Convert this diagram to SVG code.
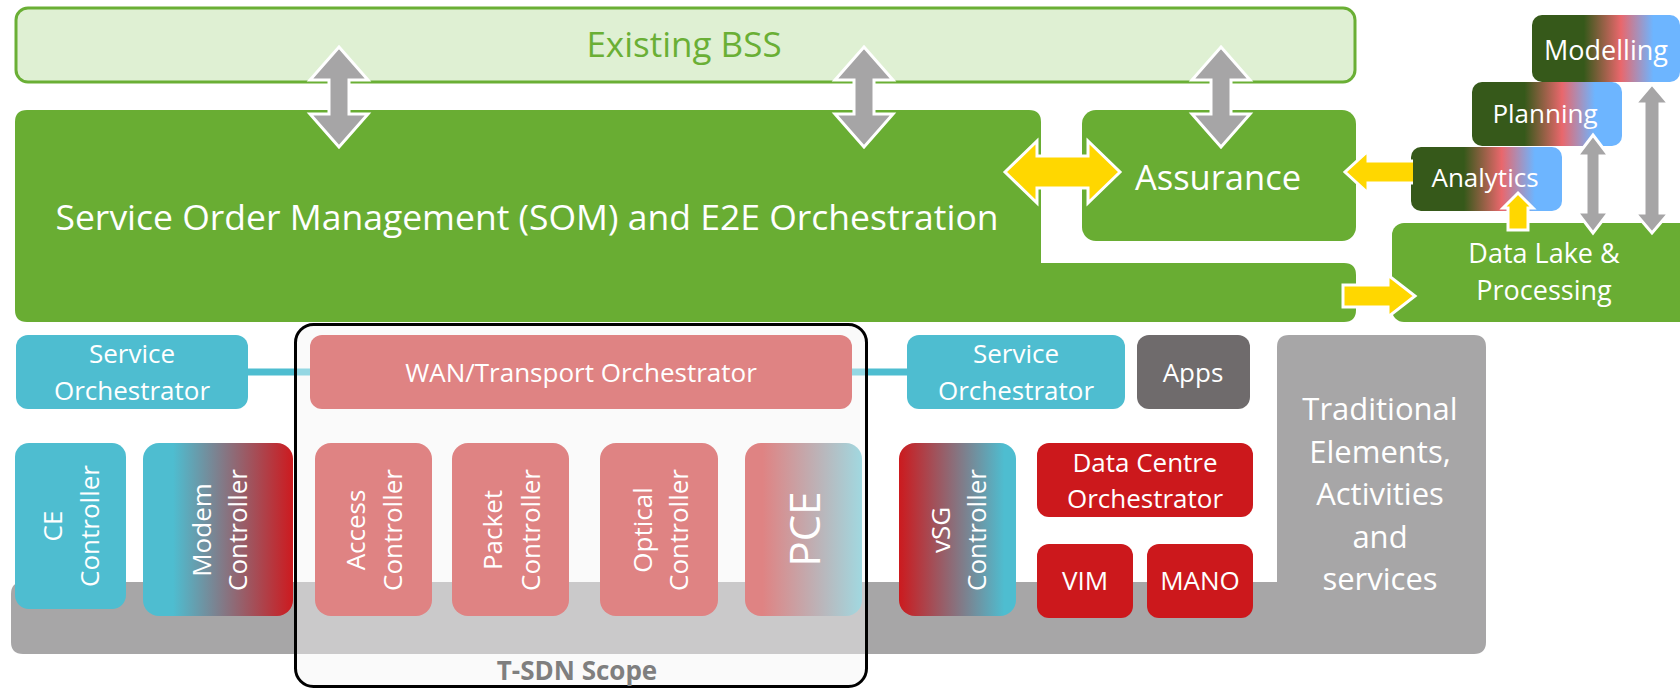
<svg xmlns="http://www.w3.org/2000/svg" width="1680" height="695" viewBox="0 0 1680 695">
<defs>
<linearGradient id="gAn" x1="0" y1="0" x2="1" y2="0">
<stop offset="0" stop-color="#36591A"/><stop offset="0.35" stop-color="#36591A"/><stop offset="0.6" stop-color="#E9676C"/><stop offset="0.82" stop-color="#6DB5FF"/><stop offset="1" stop-color="#6DB5FF"/>
</linearGradient>
<linearGradient id="gModem" x1="0" y1="0" x2="1" y2="0">
<stop offset="0" stop-color="#4EBDD0"/><stop offset="0.2" stop-color="#4EBDD0"/><stop offset="1" stop-color="#CD1A1F"/>
</linearGradient>
<linearGradient id="gVsg" x1="0" y1="0" x2="1" y2="0">
<stop offset="0" stop-color="#CC1A1E"/><stop offset="0.9" stop-color="#4EBDD0"/><stop offset="1" stop-color="#4EBDD0"/>
</linearGradient>
<linearGradient id="gPce" x1="0" y1="0" x2="1" y2="0">
<stop offset="0" stop-color="#DF8383"/><stop offset="0.15" stop-color="#DF8383"/><stop offset="1" stop-color="#A1D8E0"/>
</linearGradient>
<style>
text{font-family:"Open Sans","Liberation Sans",sans-serif;fill:#fff;text-anchor:middle}
.green{fill:#69AD33}
.teal{fill:#4EBDD0}
.pink{fill:#DF8383}
.red{fill:#CC181C}
.gray{fill:#A7A6A7}
.ga{fill:#A6A5A6;stroke:#fff;stroke-width:3}
.ya{fill:#FFD700;stroke:#fff;stroke-width:3}
.yf{fill:#FFD700}
.wo{fill:none;stroke:#fff;stroke-width:3}
.t26{font-size:26px}
.t27{font-size:27px}
</style>
</defs>
<rect width="1680" height="695" fill="#fff"/>

<g id="bss">
<rect x="16" y="8" width="1339" height="74" rx="12" fill="#DFF0D3" stroke="#6AAF35" stroke-width="3"/>
<text x="684" y="57" style="font-size:35px;fill:#6AAF35">Existing BSS</text>
</g>

<g id="som">
<path class="green" d="M15,122 Q15,110 27,110 H1029 Q1041,110 1041,122 V263 H1344 Q1356,263 1356,275 V310 Q1356,322 1344,322 H27 Q15,322 15,310 Z"/>
<text x="527" y="230" style="font-size:35.5px">Service Order Management (SOM) and E2E Orchestration</text>
</g>

<g id="assurance">
<rect class="green" x="1082" y="110" width="274" height="131" rx="14"/>
<text x="1218" y="190" style="font-size:34.5px">Assurance</text>
</g>

<g id="datalake">
<rect class="green" x="1392" y="223" width="300" height="99" rx="12"/>
<text class="t27" x="1544" y="263">Data Lake &amp;</text>
<text class="t27" x="1544" y="300">Processing</text>
</g>

<g id="modelling">
<rect x="1532" y="15" width="148" height="67" rx="10" fill="url(#gAn)"/>
<text class="t27" x="1606" y="60">Modelling</text>
</g>

<g id="planning">
<rect x="1472" y="82" width="150" height="64" rx="10" fill="url(#gAn)"/>
<text class="t26" x="1545" y="123">Planning</text>
</g>

<g id="analytics">
<rect x="1411" y="147" width="151" height="64" rx="10" fill="url(#gAn)"/>
<text class="t26" x="1485" y="187">Analytics</text>
</g>

<g id="tsdn-bg">
<rect x="295.5" y="324.5" width="571" height="362" rx="18" fill="#F7F7F7"/>
</g>

<g id="traditional">
<path class="gray" d="M11,594 Q11,582 23,582 H1277 V347 Q1277,335 1289,335 H1474 Q1486,335 1486,347 V642 Q1486,654 1474,654 H23 Q11,654 11,642 Z"/>
<text x="1380" y="420" style="font-size:31px">Traditional</text>
<text x="1380" y="463" style="font-size:31px">Elements,</text>
<text x="1380" y="505" style="font-size:31px">Activities</text>
<text x="1380" y="548" style="font-size:31px">and</text>
<text x="1380" y="590" style="font-size:31px">services</text>
</g>

<g id="connectors">
<line x1="248" y1="372" x2="907" y2="372" stroke="#4EBDD0" stroke-width="7"/>
<path class="ga" d="M339,47 L368,80 L349,80 L349,114 L368,114 L339,147 L310,114 L329,114 L329,80 L310,80 Z"/>
<path class="ga" d="M864,47 L893,80 L874,80 L874,114 L893,114 L864,147 L835,114 L854,114 L854,80 L835,80 Z"/>
<path class="ga" d="M1221,47 L1250,80 L1231,80 L1231,114 L1250,114 L1221,147 L1192,114 L1211,114 L1211,80 L1192,80 Z"/>
<path class="ya" d="M1005,172 L1037,141 L1037,156 L1088,156 L1088,141 L1120,172 L1088,203 L1088,188 L1037,188 L1037,203 Z"/>
<path class="yf" d="M1345,172 L1368,151 L1368,161 L1413,161 L1413,183 L1368,183 L1368,193 Z"/>
<path class="wo" d="M1413,161 L1368,161 L1368,151 L1345,172 L1368,193 L1368,183 L1413,183"/>
<path class="ya" d="M1343,285 L1388,285 L1388,275 L1415,296 L1388,317 L1388,307 L1343,307 Z"/>
<path class="ya" d="M1518,193 L1533,208 L1528,208 L1528,230 L1508,230 L1508,208 L1503,208 Z"/>
<path class="ga" d="M1593,135 L1609,156 L1600,156 L1600,212 L1609,212 L1593,233 L1577,212 L1586,212 L1586,156 L1577,156 Z"/>
<path class="ga" d="M1652,84 L1669,104 L1660,104 L1660,213 L1669,213 L1652,233 L1635,213 L1644,213 L1644,104 L1635,104 Z"/>
</g>

<g id="tsdn-overlay">
<rect x="295.5" y="324.5" width="571" height="362" rx="18" fill="#fff" fill-opacity="0.4"/>
</g>

<g id="so-left">
<rect class="teal" x="16" y="335" width="232" height="74" rx="12"/>
<text class="t26" x="132" y="363">Service</text>
<text class="t26" x="132" y="400">Orchestrator</text>
</g>

<g id="wan">
<rect class="pink" x="310" y="335" width="542" height="74" rx="12"/>
<text class="t26" x="581" y="382">WAN/Transport Orchestrator</text>
</g>

<g id="so-right">
<rect class="teal" x="907" y="335" width="218" height="74" rx="12"/>
<text class="t26" x="1016" y="363">Service</text>
<text class="t26" x="1016" y="400">Orchestrator</text>
</g>

<g id="apps">
<rect x="1137" y="335" width="113" height="74" rx="12" fill="#6F6B6C"/>
<text class="t26" x="1193" y="382">Apps</text>
</g>

<g id="ce">
<rect class="teal" x="15" y="443" width="111" height="166" rx="14"/>
<text class="t26" transform="translate(70.5,526) rotate(-90)"><tspan x="0" y="-9">CE</tspan><tspan x="0" y="28">Controller</tspan></text>
</g>

<g id="modem">
<rect x="143" y="443" width="150" height="173" rx="16" fill="url(#gModem)"/>
<text class="t26" transform="translate(218,530) rotate(-90)"><tspan x="0" y="-7">Modem</tspan><tspan x="0" y="29">Controller</tspan></text>
</g>

<g id="access">
<rect class="pink" x="315" y="443" width="117" height="173" rx="16"/>
<text class="t26" transform="translate(373.5,530) rotate(-90)"><tspan x="0" y="-9">Access</tspan><tspan x="0" y="28">Controller</tspan></text>
</g>

<g id="packet">
<rect class="pink" x="452" y="443" width="117" height="173" rx="16"/>
<text class="t26" transform="translate(510.5,530) rotate(-90)"><tspan x="0" y="-9">Packet</tspan><tspan x="0" y="29">Controller</tspan></text>
</g>

<g id="optical">
<rect class="pink" x="600" y="443" width="118" height="173" rx="16"/>
<text class="t26" transform="translate(659,530) rotate(-90)"><tspan x="0" y="-7">Optical</tspan><tspan x="0" y="29">Controller</tspan></text>
</g>

<g id="pce">
<rect x="745" y="443" width="117" height="173" rx="16" fill="url(#gPce)"/>
<text transform="translate(803.5,529) rotate(-90)" style="font-size:42px"><tspan x="0" y="16">PCE</tspan></text>
</g>

<g id="vsg">
<rect x="899" y="443" width="117" height="173" rx="16" fill="url(#gVsg)"/>
<text class="t26" transform="translate(957.5,530) rotate(-90)"><tspan x="0" y="-8">vSG</tspan><tspan x="0" y="28">Controller</tspan></text>
</g>

<g id="dco">
<rect class="red" x="1037" y="443" width="216" height="74" rx="12"/>
<text class="t26" x="1145" y="472">Data Centre</text>
<text class="t26" x="1145" y="508">Orchestrator</text>
</g>

<g id="vim">
<rect class="red" x="1037" y="544" width="96" height="74" rx="12"/>
<text class="t26" x="1085" y="590">VIM</text>
</g>

<g id="mano">
<rect class="red" x="1147" y="544" width="106" height="74" rx="12"/>
<text class="t26" x="1200" y="590">MANO</text>
</g>

<g id="tsdn">
<rect x="295.5" y="324.5" width="571" height="362" rx="18" fill="none" stroke="#000" stroke-width="3"/>
<text x="577" y="680" style="font-size:26px;font-weight:bold;fill:#7F7F7F">T-SDN Scope</text>
</g>
</svg>
